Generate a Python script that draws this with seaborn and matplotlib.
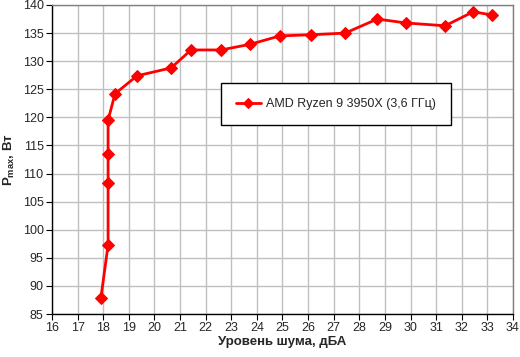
import matplotlib
matplotlib.use("Agg")
import matplotlib.pyplot as plt
import pandas as pd
import seaborn as sns

NOISE_DBA = [17.91, 18.19, 18.19, 18.19, 18.19, 18.46, 19.32, 20.65, 21.43, 22.6,
             23.73, 24.9, 26.1, 27.45, 28.7, 29.83, 31.35, 32.45, 33.2]
POWER_W = [87.9, 97.3, 108.3, 113.5, 119.5, 124.2, 127.4, 128.8, 132.0, 132.0,
           133.0, 134.5, 134.7, 135.0, 137.5, 136.8, 136.3, 138.8, 138.2]
SERIES = "AMD Ryzen 9 3950X (3,6 ГГц)"
X_TICKS = list(range(16, 35))
Y_TICKS = list(range(85, 141, 5))

sns.set_style("whitegrid")
plt.rcParams['font.family'] = ['Liberation Sans', 'DejaVu Sans']

df = pd.DataFrame({'x': NOISE_DBA, 'y': POWER_W, 'series': SERIES})

fig = plt.figure(figsize=(5.2, 3.57), dpi=100)
ax = fig.add_axes([0.1, 0.1204, 0.8865, 0.8656])

sns.lineplot(data=df, x='x', y='y', hue='series', palette=['#ff0000'], sort=False,
             marker='D', markersize=6.5, markeredgecolor='#ff0000', linewidth=2,
             estimator=None, ax=ax)

ax.set_xlim(16, 34)
ax.set_ylim(85, 140)
ax.set_xticks(X_TICKS)
ax.set_yticks(Y_TICKS)
ax.grid(True, color='#c0c0c0', linewidth=1)
ax.tick_params(axis='both', labelsize=9, length=4, direction='out', color='black',
               bottom=True, left=True, pad=2)
for side in ['left', 'bottom']:
    ax.spines[side].set_color('black')
    ax.spines[side].set_linewidth(1)
for side in ['top', 'right']:
    ax.spines[side].set_color('#808080')
    ax.spines[side].set_linewidth(1)

ax.set_xlabel('Уровень шума, дБА', fontsize=9.5, fontweight='bold', labelpad=1)
ax.set_ylabel(r'P$_{\mathregular{max}}$, Вт', fontsize=9.5, fontweight='bold', labelpad=4)

leg = ax.legend(loc='upper left', bbox_to_anchor=(0.3666, 0.7476), frameon=True,
                fancybox=False, edgecolor='black', fontsize=9, framealpha=1,
                handlelength=2.0, handletextpad=0.4, borderpad=1.2,
                borderaxespad=0, markerscale=0.85)
leg.get_frame().set_linewidth(1)

fig.savefig('out.png', dpi=100)
